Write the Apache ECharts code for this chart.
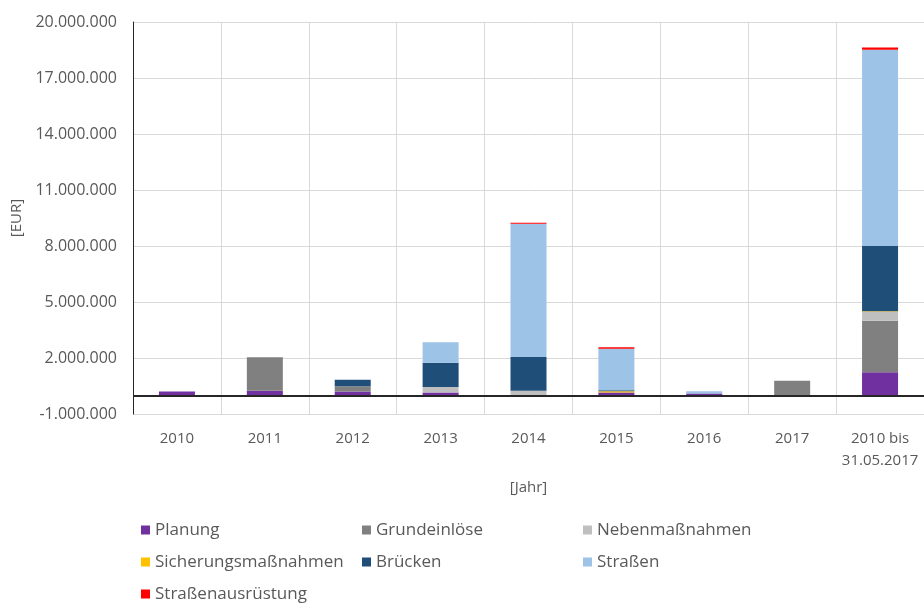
<!DOCTYPE html>
<html>
<head>
<meta charset="utf-8">
<script src="https://cdn.jsdelivr.net/npm/echarts@6/dist/echarts.min.js"></script>
<style>
  html, body { margin: 0; padding: 0; background: #fff; }
  #chart { width: 924px; height: 603px; }
</style>
</head>
<body>
<div id="chart"></div>
<script>
const categories = ['2010', '2011', '2012', '2013', '2014', '2015', '2016', '2017', '2010 bis\n31.05.2017'];

// Werte in EUR, aus dem Bild geschaetzt
const planung = [200000, 250000, 200000, 150000, 0, 150000, 100000, 0, 1230000];
const grundeinloese = [0, 1790000, 280000, 0, 0, 0, 0, 780000, 2770000];
const nebenmassnahmen = [0, 0, 0, 300000, 250000, 0, 0, 0, 480000];
const sicherungsmassnahmen = [0, 0, 0, 0, 0, 70000, 0, 0, 30000];
const bruecken = [0, 0, 360000, 1290000, 1800000, 50000, 0, 0, 3490000];
const strassen = [0, 0, 0, 1100000, 7140000, 2220000, 120000, 0, 10510000];
const strassenausruestung = [0, 0, 0, 0, 50000, 90000, 0, 0, 130000];

const textColor = '#595959';
const font = 'Open Sans';

function fmt(v) {
  const s = String(Math.abs(v)).replace(/\B(?=(\d{3})+(?!\d))/g, '.');
  return (v < 0 ? '-' : '') + s;
}

const chart = echarts.init(document.getElementById('chart'));

function bar(name, data, color) {
  return {
    name: name,
    type: 'bar',
    stack: 'total',
    barWidth: 36,
    itemStyle: { color: color },
    data: data
  };
}

const series = [
  bar('Planung', planung, '#7030a0'),
  bar('Grundeinlöse', grundeinloese, '#808080'),
  bar('Nebenmaßnahmen', nebenmassnahmen, '#bfbfbf'),
  bar('Sicherungsmaßnahmen', sicherungsmassnahmen, '#ffc000'),
  bar('Brücken', bruecken, '#1f4e79'),
  bar('Straßen', strassen, '#9dc3e6'),
  bar('Straßenausrüstung', strassenausruestung, '#ff0000')
];

// Nulllinie
series[0].markLine = {
  silent: true,
  symbol: 'none',
  label: { show: false },
  lineStyle: { color: '#262626', width: 2, type: 'solid' },
  data: [{ yAxis: 0 }]
};

chart.setOption({
  animation: false,
  textStyle: { fontFamily: font },
  grid: { left: 133, right: -1, top: 22, bottom: 189 },
  legend: {
    left: 136,
    top: 514,
    width: 700,
    itemWidth: 9,
    itemHeight: 9,
    itemGap: 10,
    icon: 'rect',
    textStyle: { color: textColor, fontSize: 17, fontFamily: font, width: 197, lineHeight: 22 },
    data: series.map(s => s.name)
  },
  xAxis: {
    type: 'category',
    data: categories,
    axisLine: { show: false, onZero: false },
    axisTick: { show: false },
    splitLine: { show: true, lineStyle: { color: '#d9d9d9', width: 1 } },
    axisLabel: { color: textColor, fontSize: 15, margin: 14, lineHeight: 22, interval: 0 },
    name: '[Jahr]',
    nameLocation: 'middle',
    nameGap: 66,
    nameTextStyle: { color: textColor, fontSize: 15 }
  },
  yAxis: {
    type: 'value',
    min: -1000000,
    max: 20000000,
    interval: 3000000,
    axisLine: { show: true, lineStyle: { color: '#262626', width: 1 } },
    axisTick: { show: false },
    splitLine: { lineStyle: { color: '#d9d9d9', width: 1 } },
    axisLabel: { color: textColor, fontSize: 16, margin: 16, formatter: fmt },
    name: '[EUR]',
    nameLocation: 'middle',
    nameGap: 104,
    nameTextStyle: { color: textColor, fontSize: 15 }
  },
  series: series
});
</script>
</body>
</html>
